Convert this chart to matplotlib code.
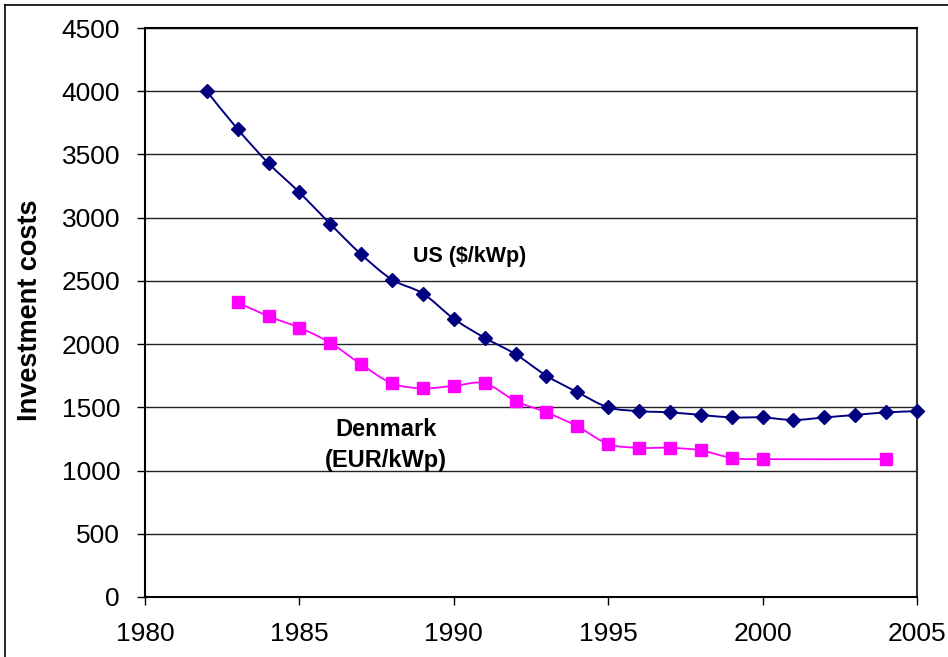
import numpy as np
import matplotlib
matplotlib.use('Agg')
import matplotlib.pyplot as plt
from matplotlib.path import Path
from matplotlib.patches import PathPatch
from matplotlib.lines import Line2D

plt.rcParams['font.family'] = ['Liberation Sans', 'DejaVu Sans']

# Data
us_years = [1982, 1983, 1984, 1985, 1986, 1987, 1988, 1989, 1990, 1991, 1992, 1993,
            1994, 1995, 1996, 1997, 1998, 1999, 2000, 2001, 2002, 2003, 2004, 2005]
us_cost = [4000, 3700, 3430, 3200, 2950, 2710, 2510, 2400, 2200, 2050, 1920, 1750,
           1620, 1500, 1470, 1460, 1440, 1420, 1420, 1400, 1420, 1440, 1460, 1470]

dk_years = [1983, 1984, 1985, 1986, 1987, 1988, 1989, 1990, 1991, 1992, 1993,
            1994, 1995, 1996, 1997, 1998, 1999, 2000, 2004]
dk_cost = [2330, 2220, 2130, 2010, 1840, 1690, 1650, 1670, 1690, 1550, 1460,
           1350, 1210, 1180, 1180, 1160, 1100, 1090, 1090]

x_ticks = [1980, 1985, 1990, 1995, 2000, 2005]
y_ticks = [0, 500, 1000, 1500, 2000, 2500, 3000, 3500, 4000, 4500]


def smooth_path(x, y):
    # Excel-style smoothed line: Catmull-Rom segments as cubic Beziers
    pts = np.column_stack([x, y]).astype(float)
    n = len(pts)
    verts = [pts[0]]
    codes = [Path.MOVETO]
    for i in range(n - 1):
        p0 = pts[i - 1] if i > 0 else pts[i]
        p1 = pts[i]
        p2 = pts[i + 1]
        p3 = pts[i + 2] if i + 2 < n else pts[i + 1]
        c1 = p1 + (p2 - p0) / 6.0
        c2 = p2 - (p3 - p1) / 6.0
        verts += [c1, c2, p2]
        codes += [Path.CURVE4] * 3
    return Path(verts, codes)


fig = plt.figure(figsize=(9.48, 6.57), dpi=100)
ax = fig.add_axes([145 / 948, 60 / 657, (917 - 145) / 948, (597 - 28) / 657])

ax.set_xlim(1980, 2005)
ax.set_ylim(0, 4500)
ax.set_xticks(x_ticks)
ax.set_yticks(y_ticks)
ax.grid(axis='y', color='#222222', linewidth=1.0)
ax.set_axisbelow(True)

for s in ax.spines.values():
    s.set_linewidth(1.5)
    s.set_color('black')
ax.spines['right'].set_color('#333333')

ax.tick_params(axis='both', direction='out', length=6, width=1, labelsize=19)
ax.tick_params(axis='x', pad=12)
ax.tick_params(axis='y', pad=12)

us_color = '#000080'
dk_color = '#FF00FF'

ax.add_patch(PathPatch(smooth_path(us_years, us_cost), facecolor='none',
                       edgecolor=us_color, linewidth=1.4, clip_on=False, zorder=3))
ax.plot(us_years, us_cost, linestyle='none', marker='D', markersize=7,
        color=us_color, clip_on=False, zorder=4)

ax.add_patch(PathPatch(smooth_path(dk_years, dk_cost), facecolor='none',
                       edgecolor=dk_color, linewidth=1.3, clip_on=False, zorder=3))
ax.plot(dk_years, dk_cost, linestyle='none', marker='s', markersize=8,
        color=dk_color, clip_on=False, zorder=4)

ax.set_ylabel('Investment costs', fontsize=19.5, fontweight='bold')
ax.yaxis.set_label_coords(-0.132, 0.504)

ax.text(1990.5, 2690, 'US ($/kWp)', fontsize=15.5, fontweight='bold',
        ha='center', va='center')
ax.text(1987.8, 1200, 'Denmark\n(EUR/kWp)', fontsize=17, fontweight='bold',
        ha='center', va='center', linespacing=1.45)

# outer chart frame (left and top edges visible)
fig.add_artist(Line2D([5 / 948, 5 / 948], [0, 1 - 5 / 657], color='black', linewidth=1.2))
fig.add_artist(Line2D([5 / 948, 1], [1 - 5 / 657, 1 - 5 / 657], color='black', linewidth=1.2))

fig.savefig('out.png', dpi=100)
